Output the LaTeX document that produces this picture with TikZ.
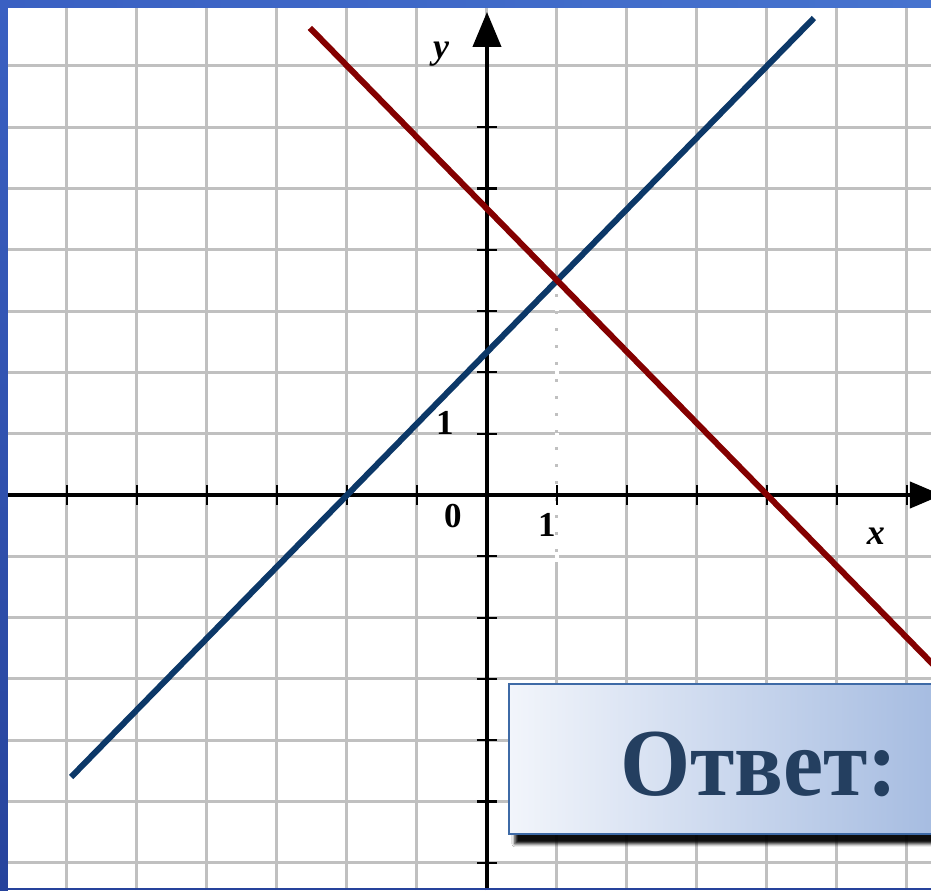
\documentclass[tikz,border=0pt]{standalone}
\usepackage{fontspec}
\setmainfont{Liberation Serif}
\newfontfamily\ansfont[FakeStretch=0.94]{Liberation Serif}
\usetikzlibrary{arrows.meta,positioning,calc,shadows.blur}
\definecolor{FrameTop}{HTML}{3A60C2}
\definecolor{FrameTopRight}{HTML}{4673CE}
\definecolor{FrameBottom}{HTML}{26439C}
\definecolor{GridGray}{HTML}{C0C0C0}
\definecolor{GraphBlue}{HTML}{0C3868}
\definecolor{GraphRed}{HTML}{840000}
\definecolor{AnsText}{HTML}{243F60}
\definecolor{AnsLine}{HTML}{3E6AA6}
\definecolor{AnsLeft}{HTML}{F2F5FB}
\definecolor{AnsRight}{HTML}{A3BAE0}

\begin{document}
\begin{tikzpicture}[x=70pt,y=61.3pt,>=Latex]
  \tikzstyle{lbl}=[font=\bfseries\fontsize{35}{35}\selectfont, inner sep=0pt]
  \tikzstyle{axis}=[line width=4pt, black]
  \tikzstyle{tick}=[line width=2.2pt, black]
  \tikzstyle{graph}=[line width=6pt]
  \tikzstyle{ansbox}=[draw=AnsLine, line width=1.8pt, left color=AnsLeft, right color=AnsRight, inner sep=0pt,
    blur shadow={shadow xshift=6pt, shadow yshift=-10pt, shadow opacity=95, shadow blur steps=4, shadow blur radius=3pt}]
  \useasboundingbox (-6.957,-6.444) rectangle (6.343,8.075);
  \fill[white] (-6.957,-6.444) rectangle (6.343,8.075);
  \draw[GridGray, line width=3pt, step={(1,1)}] (-6.957,-6.444) grid (6.343,8.075);

  \coordinate (O) at (0,0);
  \coordinate (P) at (1,3.5);
  \coordinate (B1) at (-5.94,-4.6);
  \coordinate (B2) at (4.67,7.78);
  \coordinate (R1) at (-2.53,7.62);
  \coordinate (R2) at (6.6,-3.03);
  \coordinate (Pfoot) at (1,-1.1);

  % dropped line from the crossing point
  \draw[white, line width=3.4pt, dash pattern=on 14pt off 3pt] (P) -- (Pfoot);

  % axes
  \draw[axis, -{Triangle[length=32pt,width=26pt]}] (-6.957,0) -- (6.5,0);
  \draw[axis, -{Triangle[length=35pt,width=28pt]}] (0,-6.444) -- (0,7.88);
  \foreach \i in {-6,...,-1,1,2,...,6}
    \draw[tick] (\i,-0.16) -- (\i,0.16);
  \foreach \j in {-6,...,-1,1,2,...,6}
    \draw[tick] (-0.143,\j) -- (0.143,\j);

  % graphs
  \draw[graph, GraphBlue] (B1) -- (B2);
  \draw[graph, GraphRed] (R1) -- (R2);

  \node[lbl] (one y) at (-0.6,1.175) {1};
  \node[lbl] (zero) at (-0.486,-0.34) {0};
  \node[lbl] (one x) at (0.857,-0.49) {1};
  \node[lbl, font=\bfseries\itshape\fontsize{36}{36}\selectfont] (ylab) at (-0.657,7.2) {y};
  \node[lbl, font=\bfseries\itshape\fontsize{36}{36}\selectfont] (xlab) at (5.557,-0.68) {x};

  % answer box
  \node[ansbox, anchor=north west, minimum width=441pt, minimum height=150pt] (ans) at (0.3,-3.067) {};
  \node[anchor=base west, inner sep=0pt, text=AnsText, font=\ansfont\bfseries\fontsize{96}{96}\selectfont] (anstext) at (1.9,-4.894) {Ответ:};

  % frame
  \shade[left color=FrameTop, right color=FrameTopRight] (-6.957,7.945) rectangle (6.343,8.075);
  \shade[top color=FrameTop, bottom color=FrameBottom] (-6.957,-6.444) rectangle (-6.843,8.075);
  \fill[FrameBottom] (-6.957,-6.444) rectangle (6.343,-6.404);
\end{tikzpicture}
\end{document}
